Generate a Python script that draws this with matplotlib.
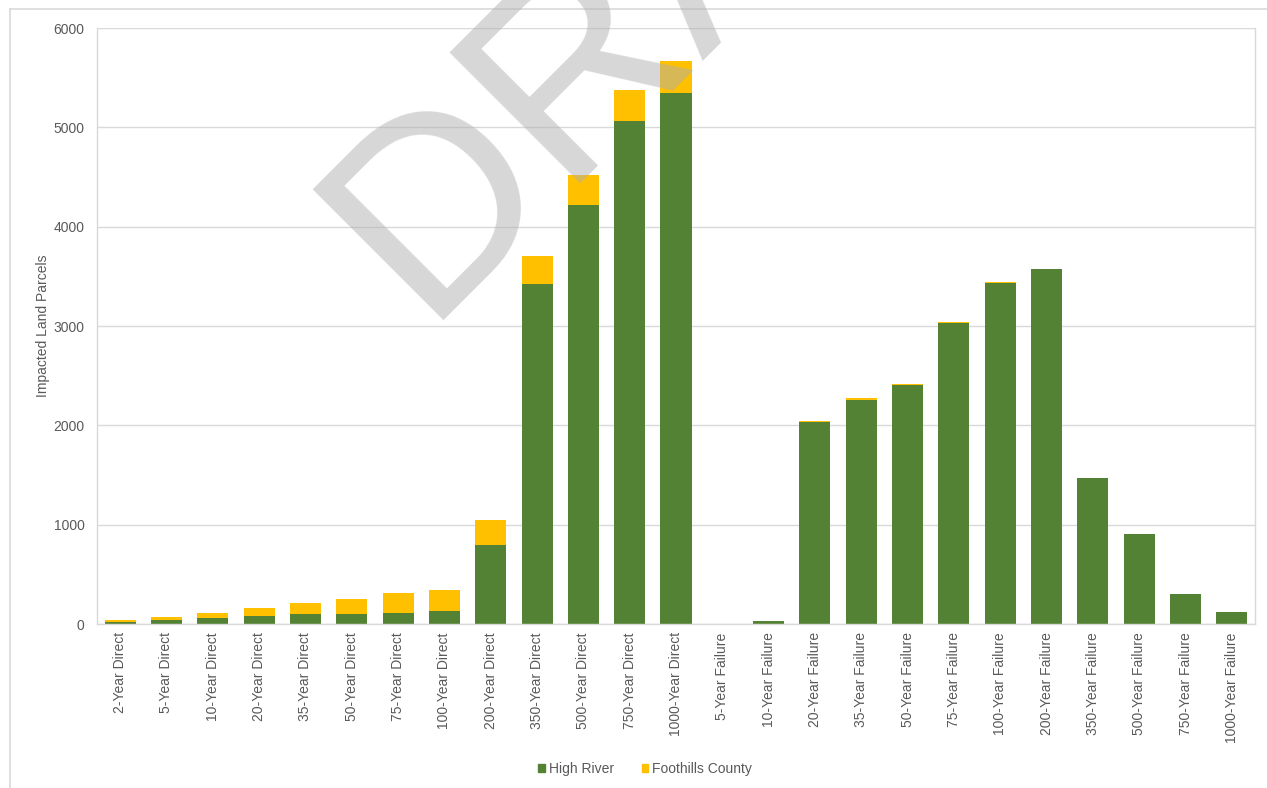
import matplotlib
matplotlib.use("Agg")
import matplotlib.pyplot as plt
import numpy as np
from matplotlib.lines import Line2D
from matplotlib.patches import Patch

plt.rcParams["font.family"] = ["Liberation Sans", "DejaVu Sans"]

# Impacted parcels per scenario, stacked by municipality
SCENARIOS = [
    "2-Year Direct", "5-Year Direct", "10-Year Direct", "20-Year Direct",
    "35-Year Direct", "50-Year Direct", "75-Year Direct", "100-Year Direct",
    "200-Year Direct", "350-Year Direct", "500-Year Direct", "750-Year Direct",
    "1000-Year Direct",
    "5-Year Failure", "10-Year Failure", "20-Year Failure", "35-Year Failure",
    "50-Year Failure", "75-Year Failure", "100-Year Failure", "200-Year Failure",
    "350-Year Failure", "500-Year Failure", "750-Year Failure", "1000-Year Failure",
]
HIGH_RIVER = [20, 45, 65, 82, 98, 105, 112, 132, 795, 3420, 4218, 5064, 5346,
              0, 30, 2030, 2258, 2403, 3030, 3430, 3570, 1470, 909, 299, 121]
FOOTHILLS = [20, 25, 50, 82, 117, 147, 197, 210, 255, 288, 302, 315, 322,
             0, 0, 15, 17, 13, 10, 10, 5, 0, 0, 0, 0]

GREEN = "#548235"
GOLD = "#FFC000"
GRID = "#d9d9d9"
TEXT = "#595959"

W, H = 1267, 788
fig = plt.figure(figsize=(W / 100, H / 100), dpi=100)
ax = fig.add_axes([97 / W, 1 - 624 / H, (1255 - 97) / W, (624 - 28) / H])

x = np.arange(len(SCENARIOS))
hr = np.array(HIGH_RIVER, dtype=float)
fc = np.array(FOOTHILLS, dtype=float)
bar_w = 0.67
ax.bar(x, hr, bar_w, color=GREEN, linewidth=0, zorder=2)
ax.bar(x, fc, bar_w, bottom=hr, color=GOLD, linewidth=0, zorder=2)

ax.set_xlim(-0.5, len(SCENARIOS) - 0.5)
ax.set_ylim(0, 6000)
ax.set_yticks(np.arange(0, 6001, 1000))
ax.yaxis.grid(True, color=GRID, linewidth=1.0, zorder=0)
ax.set_axisbelow(True)

ax.set_xticks(x)
ax.set_xticklabels(SCENARIOS, rotation=90, ha="center", va="top")
ax.tick_params(axis="both", length=0, labelsize=10, labelcolor=TEXT)
ax.tick_params(axis="y", pad=9)
ax.tick_params(axis="x", pad=6)

for side in ("left", "right", "bottom"):
    ax.spines[side].set_color(GRID)
    ax.spines[side].set_linewidth(1.0)
ax.spines["top"].set_visible(False)

ax.set_ylabel("Impacted Land Parcels", fontsize=10, color=TEXT)
ax.yaxis.set_label_coords((50 - 97) / 1158, 0.5)

# outer chart frame (top and left edges fall inside the image)
fig.add_artist(Line2D([10 / W, 1], [1 - 9 / H, 1 - 9 / H], color=GRID, lw=1.2,
                      transform=fig.transFigure))
fig.add_artist(Line2D([10 / W, 10 / W], [0, 1 - 9 / H], color=GRID, lw=1.2,
                      transform=fig.transFigure))

handles = [Patch(color=GREEN, label="High River"),
           Patch(color=GOLD, label="Foothills County")]
fig.legend(handles=handles, loc="center", bbox_to_anchor=(645 / W, 1 - 769 / H),
           ncol=2, frameon=False, fontsize=10, labelcolor=TEXT,
           handlelength=0.5, handleheight=0.5, handletextpad=0.25,
           columnspacing=2.0)

# watermark
fig.text(422 / W, 1 - 320 / H, "DRAFT", rotation=45, rotation_mode="anchor",
         ha="left", va="baseline", fontsize=194, color="#b0b0b0", alpha=0.5,
         zorder=10)

fig.savefig("out.png", dpi=100)
